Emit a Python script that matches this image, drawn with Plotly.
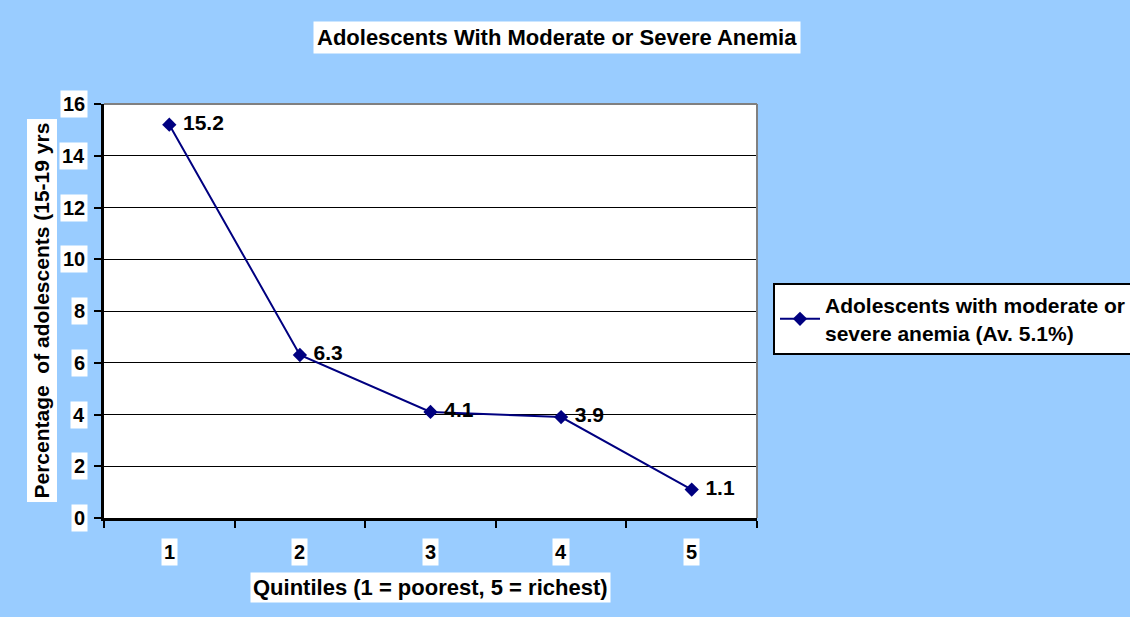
import plotly.graph_objects as go

quintiles = [1, 2, 3, 4, 5]
values = [15.2, 6.3, 4.1, 3.9, 1.1]
value_labels = ["15.2", "6.3", "4.1", "3.9", "1.1"]
x_tick_labels = ["1", "2", "3", "4", "5"]
y_tick_vals = [0, 2, 4, 6, 8, 10, 12, 14, 16]
x_boundaries = [0.5, 1.5, 2.5, 3.5, 4.5, 5.5]

title_text = "Adolescents With Moderate or Severe Anemia"
x_title = "Quintiles (1 = poorest, 5 = richest)"
y_title = "Percentage&nbsp; of adolescents (15-19 yrs"
series_name = "Adolescents with moderate or<br>severe anemia (Av. 5.1%)"

FONT = "Arial, 'Liberation Sans', sans-serif"
BG = "#99CCFF"
NAVY = "#000080"

fig = go.Figure()
fig.add_trace(go.Scatter(
    x=quintiles, y=values, mode="lines+markers+text",
    name=series_name,
    text=[" " + t for t in value_labels], textposition="middle right",
    textfont=dict(family=FONT, size=21, color="black", weight="bold"),
    line=dict(color=NAVY, width=2),
    marker=dict(symbol="diamond", size=11, color=NAVY),
    cliponaxis=False,
))

annotations = []
for v in y_tick_vals:
    annotations.append(dict(
        x=0, xref="paper", xshift=-16, xanchor="right",
        y=v, yref="y", yanchor="middle",
        text=str(v), showarrow=False, bgcolor="white", borderpad=2,
        font=dict(family=FONT, size=20, color="black", weight="bold"),
    ))
for q, lab in zip(quintiles, x_tick_labels):
    annotations.append(dict(
        x=q, xref="x", xanchor="center",
        y=0, yref="y", yshift=-34, yanchor="middle",
        text=lab, showarrow=False, bgcolor="white", borderpad=2,
        font=dict(family=FONT, size=20, color="black", weight="bold"),
    ))
annotations.append(dict(
    x=0.5, xref="paper", xanchor="center",
    y=-0.1667, yref="paper", yanchor="middle",
    text=x_title, showarrow=False, bgcolor="white", borderpad=2,
    font=dict(family=FONT, size=22, color="black", weight="bold"),
))
annotations.append(dict(
    x=-0.0957, xref="paper", xanchor="center",
    y=0.0362, yref="paper", yanchor="bottom",
    text=y_title, textangle=-90, showarrow=False, bgcolor="white", borderpad=3,
    font=dict(family=FONT, size=21, color="black", weight="bold"),
))
annotations.append(dict(
    x=0.6937, xref="paper", xanchor="center",
    y=1.1618, yref="paper", yanchor="middle",
    text=title_text, showarrow=False, bgcolor="white", borderpad=3,
    font=dict(family=FONT, size=22, color="black", weight="bold"),
))

fig.update_layout(
    width=1130, height=617,
    margin=dict(l=104, r=373, t=104, b=99, autoexpand=False),
    paper_bgcolor=BG, plot_bgcolor="white",
    showlegend=True,
    legend=dict(
        x=1.0245, xanchor="left", y=0.5676, yanchor="top",
        bgcolor="white", bordercolor="black", borderwidth=2,
        font=dict(family=FONT, size=21, color="black", weight="bold"),
        itemwidth=40,
    ),
    annotations=annotations,
    shapes=[
        dict(type="line", xref="paper", yref="paper", x0=0, x1=1, y0=1, y1=1,
             line=dict(color="#808080", width=2), layer="above"),
        dict(type="line", xref="paper", yref="paper", x0=1, x1=1, y0=0, y1=1,
             line=dict(color="#808080", width=2), layer="above"),
    ],
)
fig.update_xaxes(
    range=[0.5, 5.5], tickvals=x_boundaries, showticklabels=False,
    ticks="outside", ticklen=7, tickwidth=2, tickcolor="black",
    showline=True, linecolor="black", linewidth=3, showgrid=False, zeroline=False,
)
fig.update_yaxes(
    range=[0, 16], tickvals=y_tick_vals, showticklabels=False,
    ticks="outside", ticklen=7, tickwidth=2, tickcolor="black",
    showline=True, linecolor="black", linewidth=3,
    showgrid=True, gridcolor="black", gridwidth=1, zeroline=False,
)

fig.write_html(
    "out.html",
    config={"displayModeBar": False},
    post_script="document.body.style.margin='0';document.body.style.overflow='hidden';",
)
